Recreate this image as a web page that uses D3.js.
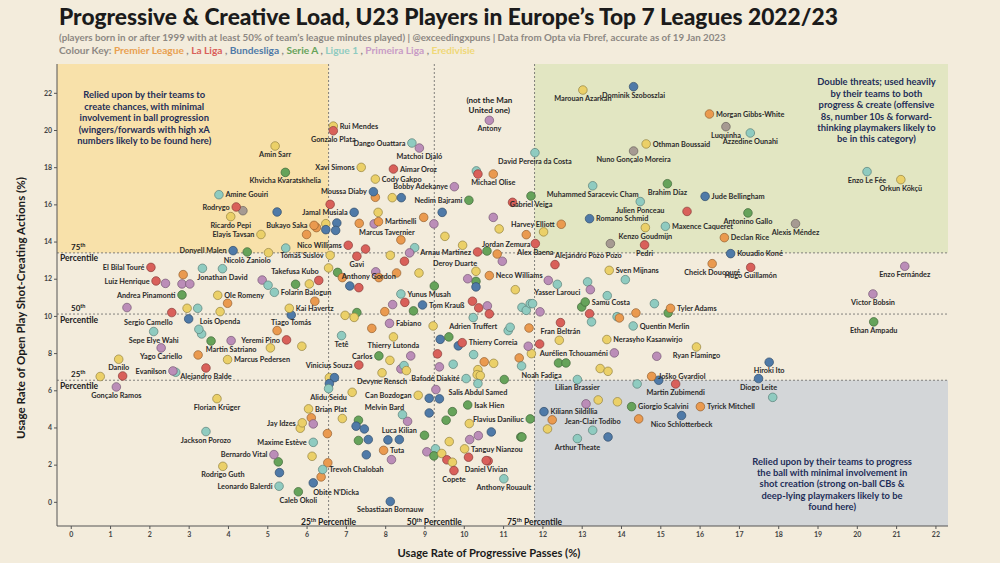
<!DOCTYPE html>
<html>
<head>
<meta charset="utf-8">
<script src="https://cdn.jsdelivr.net/npm/d3@7"></script>
<style>
  body { margin: 0; background: #f3ecdc; }
  svg { display: block; font-family: Lato, "Open Sans", sans-serif; }
</style>
</head>
<body>
<svg id="chart"></svg>
<script>
var w = 1000, h = 563;

// league codes, names and colours
var leagues = ["PL", "LL", "BL", "SA", "L1", "PT", "ED", "X"];
var leagueNames = ["Premier League", "La Liga", "Bundesliga", "Serie A", "Ligue 1", "Primeira Liga", "Eredivisie", ""];
var leagueColours = ["#ea9a4f", "#d9605a", "#4f7aa8", "#66a35a", "#8fcbc0", "#bb8db8", "#ebd068", "#a69a92"];
var keyColours = ["#e9a050", "#d9605a", "#4f7aa8", "#66a35a", "#8fcbc0", "#c89bc6", "#f0d878"];

// percentile cut-offs (progressive passes %, shot-creating actions %)
var xPercentiles = [6.56, 9.25, 11.80];
var yPercentiles = [6.54, 10.10, 13.39];
var percentileNames = ["25", "50", "75"];

var xTicks = d3.range(0, 23, 1);
var yTicks = d3.range(0, 23, 2);

// [name, progressive pass usage %, SCA usage %, league]
var named = [
  ["Amin Sarr", 5.20, 19.14, "ED"], ["Khvicha Kvaratskhelia", 5.46, 17.72, "SA"],
  ["Amine Gouiri", 3.77, 16.52, "L1"], ["Rodrygo", 4.21, 15.86, "LL"],
  ["Ricardo Pepi", 4.07, 15.34, "ED"], ["Bukayo Saka", 6.19, 14.87, "PL"],
  ["Elayis Tavsan", 4.84, 14.38, "ED"], ["Rui Mendes", 6.68, 20.21, "ED"],
  ["Gonzalo Plata", 6.68, 19.96, "LL"], ["Dango Ouattara", 8.68, 19.30, "L1"],
  ["Matchoi Djaló", 8.87, 19.03, "PT"], ["Antony", 10.65, 20.52, "PT"],
  ["Xavi Simons", 7.39, 17.99, "ED"], ["Aimar Oroz", 8.21, 17.90, "LL"],
  ["Cody Gakpo", 7.75, 17.36, "ED"], ["Moussa Diaby", 7.70, 16.68, "BL"],
  ["Bobby Adekanye", 9.76, 16.95, "PT"], ["Nedim Bajrami", 10.13, 16.22, "SA"],
  ["Michael Olise", 10.75, 17.63, "PL"], ["David Pereira da Costa", 11.81, 18.78, "L1"],
  ["Jamal Musiala", 7.21, 15.57, "BL"], ["Martinelli", 7.83, 15.07, "PL"],
  ["Marcus Tavernier", 8.40, 14.09, "PL"], ["Gabriel Veiga", 11.71, 16.45, "SA"],
  ["Harvey Elliott", 12.48, 14.93, "PL"], ["Marouan Azarkan", 13.03, 22.15, "ED"],
  ["Dominik Szoboszlai", 14.32, 22.33, "BL"], ["Morgan Gibbs-White", 16.25, 20.86, "PL"],
  ["Luquinha", 16.67, 20.18, "X"], ["Azzedine Ounahi", 17.29, 19.84, "L1"],
  ["Othman Boussaid", 14.64, 19.25, "ED"], ["Nuno Gonçalo Moreira", 14.32, 18.87, "X"],
  ["Muhammed Saracevic Cham", 13.28, 17.00, "L1"], ["Brahim Díaz", 15.18, 17.11, "SA"],
  ["Jude Bellingham", 16.14, 16.43, "BL"], ["Julien Ponceau", 14.49, 16.15, "L1"],
  ["Antonino Gallo", 17.23, 15.54, "SA"], ["Romano Schmid", 13.20, 15.23, "BL"],
  ["Maxence Caqueret", 15.13, 14.82, "L1"], ["Kenzo Goudmijn", 14.62, 14.75, "ED"],
  ["Enzo Le Fée", 20.26, 17.76, "L1"], ["Orkun Kökçü", 21.12, 17.33, "ED"],
  ["Alexis Méndez", 18.44, 14.96, "X"], ["Donyell Malen", 4.13, 13.51, "BL"],
  ["Nicolò Zaniolo", 4.49, 13.44, "SA"], ["Nico Williams", 7.06, 13.80, "LL"],
  ["Tomáš Suslov", 6.60, 13.26, "ED"], ["El Bilal Touré", 2.04, 12.61, "LL"],
  ["Jonathan David", 3.86, 12.54, "L1"], ["Luiz Henrique", 2.17, 11.88, "LL"],
  ["Takefusa Kubo", 6.31, 11.91, "LL"], ["Folarin Balogun", 5.18, 11.27, "L1"],
  ["Andrea Pinamonti", 2.83, 11.13, "SA"], ["Ole Romeny", 3.74, 11.11, "ED"],
  ["Kai Havertz", 5.56, 10.41, "ED"], ["Sergio Camello", 3.00, 9.84, "BL"],
  ["Lois Openda", 3.26, 9.28, "L1"], ["Tiago Tomás", 5.25, 9.21, "PL"],
  ["Sepe Elye Wahi", 2.11, 9.16, "L1"], ["Yeremi Pino", 5.49, 8.71, "LL"],
  ["Martin Satriano", 4.08, 8.67, "PT"], ["Yago Cariello", 2.30, 8.28, "PT"],
  ["Marcus Pedersen", 3.99, 7.65, "ED"], ["Danilo", 1.22, 7.67, "ED"],
  ["Evanilson", 2.60, 7.04, "PT"], ["Alejandro Balde", 3.44, 7.20, "LL"],
  ["Gonçalo Ramos", 1.16, 6.18, "PT"], ["Alidu Seidu", 6.56, 6.09, "L1"],
  ["Florian Krüger", 3.72, 5.55, "ED"], ["Jackson Porozo", 3.44, 3.78, "L1"],
  ["Brian Plat", 6.05, 5.00, "ED"], ["Jay Idzes", 5.89, 4.25, "ED"],
  ["Maxime Estève", 6.17, 3.20, "L1"], ["Bernardo Vital", 5.17, 2.54, "PT"],
  ["Rodrigo Guth", 3.87, 1.91, "ED"], ["Trevoh Chalobah", 6.41, 1.74, "L1"],
  ["Leonardo Balerdi", 5.30, 0.84, "L1"], ["Obite N'Dicka", 6.17, 1.02, "BL"],
  ["Caleb Okoli", 5.79, 0.54, "SA"], ["Can Bozdogan", 8.84, 5.73, "ED"],
  ["Salis Abdul Samed", 10.36, 6.36, "L1"], ["Isak Hien", 10.10, 5.21, "SA"],
  ["Melvin Bard", 8.44, 4.69, "L1"], ["Flavius Daniliuc", 11.69, 4.46, "SA"],
  ["Luca Kilian", 8.36, 3.35, "BL"], ["Tuta", 7.96, 2.77, "PL"],
  ["Copete", 9.75, 1.68, "LL"], ["Tanguy Nianzou", 10.02, 2.85, "ED"],
  ["Daniel Vivian", 10.57, 2.22, "LL"], ["Anthony Rouault", 11.02, 1.24, "L1"],
  ["Sebastiaan Bornauw", 8.13, 0.02, "BL"], ["Lilian Brassier", 12.89, 6.58, "L1"],
  ["Martin Zubimendi", 15.39, 6.34, "LL"], ["Diogo Leite", 17.50, 6.63, "BL"],
  ["Giorgio Scalvini", 14.27, 5.12, "SA"], ["Tyrick Mitchell", 16.02, 5.12, "PL"],
  ["Kiliann Sildillia", 12.04, 4.85, "BL"], ["Jean-Clair Todibo", 13.28, 3.85, "L1"],
  ["Nico Schlotterbeck", 15.54, 4.64, "BL"], ["Arthur Theate", 12.89, 3.40, "L1"],
  ["Jordan Zemura", 10.85, 13.33, "PL"], ["Alex Baena", 11.82, 13.89, "LL"],
  ["Arnau Martinez", 10.35, 13.44, "LL"], ["Deroy Duarte", 10.31, 12.40, "ED"],
  ["Gavi", 7.28, 13.21, "LL"], ["Anthony Gordon", 7.33, 11.52, "LL"],
  ["Yunus Musah", 8.40, 11.18, "L1"], ["Tom Krauß", 8.95, 10.59, "BL"],
  ["Neco Williams", 10.65, 12.17, "PL"], ["Adrien Truffert", 10.24, 9.91, "L1"],
  ["Fabiano", 8.11, 9.60, "PT"], ["Tetê", 6.89, 8.94, "L1"],
  ["Thierry Correia", 9.96, 8.56, "LL"], ["Thierry Lutonda", 8.21, 8.87, "ED"],
  ["Carlos", 7.84, 7.85, "SA"], ["Vinicius Souza", 7.33, 7.36, "LL"],
  ["Noah Fadiga", 11.47, 7.31, "L1"], ["Devyne Rensch", 7.92, 6.94, "ED"],
  ["Bafodé Diakité", 10.06, 6.63, "L1"], ["Alejandro Pozo Pozo", 12.32, 12.76, "LL"],
  ["Sven Mijnans", 13.70, 12.45, "ED"], ["Declan Rice", 16.63, 14.21, "PL"],
  ["Kouadio Koné", 16.79, 13.35, "BL"], ["Pedri", 14.60, 13.82, "LL"],
  ["Cheick Doucouré", 16.32, 12.81, "PL"], ["Hugo Guillamón", 17.30, 12.61, "LL"],
  ["Yasser Larouci", 12.38, 11.70, "L1"], ["Samu Costa", 13.09, 10.75, "SA"],
  ["Tyler Adams", 15.26, 10.41, "PL"], ["Quentin Merlin", 14.31, 9.46, "L1"],
  ["Fran Beltrán", 12.46, 9.64, "LL"], ["Nerasyho Kasanwirjo", 13.64, 8.73, "ED"],
  ["Aurélien Tchouaméni", 13.83, 8.01, "PT"], ["Ryan Flamingo", 15.92, 8.33, "ED"],
  ["Joško Gvardiol", 14.78, 6.75, "PL"], ["Hiroki Ito", 17.77, 7.51, "BL"],
  ["Enzo Fernández", 21.22, 12.67, "PT"], ["Victor Bobsin", 20.41, 11.18, "PT"],
  ["Ethan Ampadu", 20.43, 9.68, "SA"]
];

// unlabelled players: [passes %, SCA %, league]
var others = [
  [4.38, 15.66, "X"], [5.25, 15.59, "BL"], [6.25, 14.75, "PL"], [6.49, 14.96, "ED"], [6.49, 14.64, "BL"],
  [6.77, 15.00, "BL"], [6.74, 14.60, "BL"], [6.00, 14.38, "PL"], [7.75, 16.38, "PL"], [8.18, 16.36, "ED"],
  [8.41, 16.36, "BL"], [10.32, 17.80, "L1"], [10.36, 17.63, "LL"], [6.60, 16.00, "LL"], [7.82, 15.57, "ED"],
  [9.45, 15.57, "BL"], [11.24, 16.11, "LL"], [10.75, 15.30, "PT"], [10.90, 14.68, "ED"], [7.72, 14.95, "PT"],
  [7.34, 14.98, "PL"], [8.98, 15.30, "PL"], [9.24, 14.95, "PT"], [12.03, 14.52, "ED"], [11.59, 14.37, "PL"],
  [15.68, 15.62, "LL"], [5.03, 13.40, "ED"], [5.47, 13.65, "L1"], [3.35, 12.56, "L1"], [2.86, 12.22, "PL"],
  [2.41, 11.75, "PT"], [2.83, 11.72, "PT"], [3.03, 11.72, "PT"], [4.87, 11.93, "PT"], [5.02, 11.65, "L1"],
  [5.72, 11.70, "SA"], [6.07, 11.72, "ED"], [3.99, 10.68, "PL"], [6.21, 10.79, "PL"], [5.61, 10.05, "BL"],
  [1.43, 10.45, "PT"], [2.57, 10.18, "LL"], [2.96, 10.41, "ED"], [3.23, 10.41, "L1"], [3.80, 10.23, "ED"],
  [3.33, 9.03, "L1"], [3.57, 8.65, "SA"], [5.08, 8.28, "ED"], [5.88, 8.37, "ED"], [3.24, 7.90, "PL"],
  [2.67, 6.97, "L1"], [0.75, 6.74, "ED"], [1.32, 6.77, "LL"], [6.58, 6.68, "ED"], [6.71, 6.68, "BL"],
  [6.58, 6.36, "BL"], [6.12, 4.52, "PL"], [5.84, 3.96, "ED"], [6.17, 4.19, "PT"], [6.53, 3.67, "PL"],
  [6.14, 2.45, "ED"], [5.28, 2.15, "SA"], [6.54, 2.10, "PL"], [5.31, 1.57, "BL"], [6.37, 1.34, "PL"],
  [7.16, 5.89, "ED"], [9.29, 6.04, "PT"], [9.12, 5.57, "BL"], [9.38, 5.54, "BL"], [11.03, 6.58, "SA"],
  [8.57, 4.33, "PT"], [9.12, 4.78, "BL"], [9.71, 4.85, "SA"], [9.55, 4.39, "SA"], [10.14, 4.21, "ED"],
  [6.91, 4.48, "ED"], [7.32, 4.39, "SA"], [7.26, 4.07, "BL"], [7.47, 3.92, "BL"], [10.70, 3.76, "BL"],
  [11.45, 3.49, "SA"], [10.37, 3.56, "PT"], [10.15, 3.35, "PT"], [9.63, 3.24, "ED"], [9.00, 3.58, "SA"],
  [7.32, 3.30, "SA"], [7.57, 3.35, "BL"], [8.07, 3.33, "BL"], [8.16, 2.27, "PT"], [7.52, 2.53, "BL"],
  [9.06, 2.69, "PT"], [9.28, 2.85, "L1"], [9.24, 2.47, "SA"], [9.44, 2.60, "ED"], [9.57, 2.26, "LL"],
  [9.71, 2.13, "ED"], [10.12, 2.40, "LL"], [10.62, 2.20, "LL"], [14.41, 6.34, "L1"], [14.96, 6.54, "BL"],
  [17.86, 5.62, "L1"], [13.11, 5.27, "PT"], [13.42, 5.48, "ED"], [13.91, 5.38, "ED"], [12.25, 4.41, "PL"],
  [14.45, 4.46, "PL"], [12.13, 3.92, "ED"], [13.67, 3.49, "BL"], [7.50, 13.60, "LL"], [9.52, 14.28, "ED"],
  [9.97, 13.80, "ED"], [8.75, 13.67, "L1"], [8.62, 13.39, "PT"], [8.13, 13.26, "ED"], [8.49, 12.94, "LL"],
  [6.56, 12.58, "ED"], [6.79, 12.34, "SA"], [6.91, 12.06, "PL"], [7.76, 12.37, "PT"], [7.84, 12.06, "PL"],
  [8.29, 12.31, "PL"], [8.86, 12.31, "ED"], [7.10, 11.61, "BL"], [8.19, 10.61, "PT"], [8.50, 10.73, "LL"],
  [8.72, 10.27, "SA"], [7.99, 10.23, "PL"], [7.28, 10.18, "SA"], [6.98, 10.03, "ED"], [7.21, 9.92, "ED"],
  [9.25, 11.61, "SA"], [10.31, 11.86, "SA"], [10.10, 12.00, "PT"], [10.31, 11.56, "BL"], [11.31, 11.41, "ED"],
  [12.15, 11.91, "PT"], [10.22, 10.79, "LL"], [10.38, 10.43, "LL"], [10.60, 10.54, "PT"], [10.65, 10.11, "LL"],
  [11.48, 10.46, "L1"], [11.59, 10.30, "L1"], [11.69, 10.66, "L1"], [11.75, 10.66, "L1"], [11.94, 10.22, "PT"],
  [9.22, 9.46, "ED"], [11.13, 9.21, "L1"], [11.18, 9.39, "L1"], [11.66, 9.35, "PL"], [7.66, 9.33, "PL"],
  [9.40, 8.74, "BL"], [9.62, 8.87, "SA"], [9.86, 8.39, "BL"], [8.12, 7.61, "ED"], [8.65, 7.85, "PT"],
  [8.40, 7.15, "PT"], [8.48, 7.33, "L1"], [8.54, 7.06, "ED"], [9.33, 7.96, "LL"], [9.38, 7.26, "PT"],
  [9.73, 7.40, "L1"], [10.25, 7.92, "L1"], [10.52, 7.53, "PL"], [10.76, 7.45, "ED"], [10.36, 7.11, "ED"],
  [10.34, 6.84, "ED"], [10.42, 6.79, "ED"], [11.41, 7.74, "PL"], [11.72, 7.97, "ED"], [11.64, 8.37, "PT"],
  [11.93, 8.49, "LL"], [10.98, 12.94, "PT"], [10.59, 13.49, "SA"], [13.73, 13.89, "X"], [13.15, 11.83, "L1"],
  [14.11, 11.95, "L1"], [13.22, 11.41, "PT"], [13.00, 10.48, "SA"], [13.20, 10.12, "LL"], [13.65, 11.09, "L1"],
  [14.85, 10.66, "L1"], [15.20, 10.16, "SA"], [14.38, 10.16, "PL"], [13.90, 9.96, "L1"], [13.96, 9.89, "PL"],
  [13.25, 9.68, "L1"], [12.43, 8.69, "ED"], [14.91, 7.83, "PT"], [12.41, 7.47, "SA"], [12.60, 7.47, "SA"],
  [13.47, 7.17, "ED"], [13.67, 7.02, "ED"], [11.48, 3.49, "SA"]
];

// where each name sits relative to its dot: r, l, b, t or [dx, dy, anchor]
var labelPlace = {
  "Amine Gouiri": "r", "Rodrygo": "l", "Bukayo Saka": "l", "Elayis Tavsan": "l", "Rui Mendes": "r",
  "Dango Ouattara": "l", "Xavi Simons": "l", "Aimar Oroz": "r", "Cody Gakpo": "r", "Moussa Diaby": "l",
  "Bobby Adekanye": "l", "Nedim Bajrami": "l", "Jamal Musiala": "l", "Martinelli": "r",
  "Marcus Tavernier": [-14, -5, "middle"], "Harvey Elliott": "l", "Morgan Gibbs-White": "r",
  "Othman Boussaid": "r", "Jude Bellingham": "r", "Romano Schmid": "r", "Maxence Caqueret": "r",
  "Donyell Malen": "l", "Nico Williams": "l", "Tomáš Suslov": "l", "El Bilal Touré": "l", "Luiz Henrique": "l",
  "Takefusa Kubo": [0, -6, "end"], "Folarin Balogun": "r", "Andrea Pinamonti": "l", "Ole Romeny": "r",
  "Kai Havertz": "r", "Sergio Camello": [-16, 6, "end"], "Lois Openda": [21, -5, "middle"],
  "Tiago Tomás": [14, -6, "middle"], "Yeremi Pino": "l", "Marcus Pedersen": "r", "Evanilson": "l",
  "Brian Plat": "r", "Jay Idzes": "l", "Maxime Estève": "l", "Bernardo Vital": "l", "Trevoh Chalobah": "r",
  "Leonardo Balerdi": "l", "Obite N'Dicka": [0, 12, "start"], "Can Bozdogan": "l", "Isak Hien": "r",
  "Melvin Bard": [-18, -5, "middle"], "Flavius Daniliuc": "l", "Luca Kilian": "t", "Tuta": "r",
  "Tanguy Nianzou": "r", "Giorgio Scalvini": "r", "Tyrick Mitchell": "r", "Kiliann Sildillia": "r",
  "Jean-Clair Todibo": "t", "Jordan Zemura": [9, -7, "middle"], "Arnau Martinez": "l",
  "Deroy Duarte": [-21, -5, "middle"], "Anthony Gordon": [10, -9, "middle"], "Yunus Musah": "r",
  "Tom Krauß": "r", "Neco Williams": "r", "Fabiano": "r", "Thierry Correia": "r", "Carlos": "l",
  "Vinicius Souza": "l", "Noah Fadiga": [20, 12, "middle"], "Bafodé Diakité": "l",
  "Alejandro Pozo Pozo": [0, -7, "start"], "Sven Mijnans": "r", "Declan Rice": "r", "Kouadio Koné": "r",
  "Samu Costa": "r", "Tyler Adams": "r", "Quentin Merlin": "r", "Nerasyho Kasanwirjo": "r",
  "Aurélien Tchouaméni": "l", "Joško Gvardiol": "r"
};

var notes = [
  { lines: ["Relied upon by their teams to", "create chances, with minimal", "involvement in ball progression",
            "(wingers/forwards with high xA", "numbers likely to be found here)"], x: 1.87, y: 21.7 },
  { lines: ["Double threats; used heavily", "by their teams to both", "progress & create (offensive",
            "8s, number 10s & forward-", "thinking playmakers likely to", "be in this category)"], x: 20.5, y: 22.4 },
  { lines: ["Relied upon by their teams to progress", "the ball with minimal involvement in",
            "shot creation (strong on-ball CBs &", "deep-lying playmakers likely to be",
            "found here)"], x: 19.37, y: 2.0 }
];

var colour = d3.scaleOrdinal().domain(leagues).range(leagueColours);

var svg = d3.select("#chart").attr("width", w).attr("height", h);
svg.append("rect").attr("width", w).attr("height", h).attr("fill", "#f3ecdc");

var pLeft = 57, pRight = 948, pTop = 64, pBottom = 526;
var x = d3.scaleLinear().domain([-0.35, 22.32]).range([pLeft, pRight]);
var y = d3.scaleLinear().domain([-1.3, 23.55]).range([pBottom, pTop]);

function fitText(sel, width) {
  var fs = parseFloat(sel.attr("font-size"));
  var len = sel.node().getComputedTextLength();
  sel.attr("font-size", fs * width / len);
}

// titles
var title = svg.append("text").attr("x", 59).attr("y", 25)
  .attr("font-size", 24).attr("font-weight", 900).attr("fill", "#1b1b1b")
  .text("Progressive & Creative Load, U23 Players in Europe\u2019s Top 7 Leagues 2022/23");
fitText(title, 779);

var sub = svg.append("text").attr("x", 59).attr("y", 41)
  .attr("font-size", 10).attr("font-weight", 700).attr("fill", "#8d8883")
  .text("(players born in or after 1999 with at least 50% of team\u2019s league minutes played) | @exceedingxpuns | Data from Opta via Fbref, accurate as of 19 Jan 2023");
fitText(sub, 668);

var key = svg.append("text").attr("x", 59).attr("y", 54)
  .attr("font-size", 10).attr("font-weight", 700).attr("fill", "#8d8883");
key.append("tspan").text("Colour Key: ");
leagueNames.slice(0, 7).forEach(function(n, i) {
  key.append("tspan").attr("fill", keyColours[i]).text(n);
  if (i < 6) key.append("tspan").text(" , ");
});
fitText(key, 417);

// quadrant shading
var plot = svg.append("g");
plot.append("rect").attr("x", x(-0.35)).attr("y", y(23.55))
  .attr("width", x(xPercentiles[0]) - x(-0.35)).attr("height", y(yPercentiles[2]) - y(23.55))
  .attr("fill", "#f8e1aa");
plot.append("rect").attr("x", x(xPercentiles[2])).attr("y", y(23.55))
  .attr("width", x(22.32) - x(xPercentiles[2])).attr("height", y(yPercentiles[2]) - y(23.55))
  .attr("fill", "#e2e6c2");
plot.append("rect").attr("x", x(xPercentiles[2])).attr("y", y(yPercentiles[0]))
  .attr("width", x(22.32) - x(xPercentiles[2])).attr("height", y(-1.3) - y(yPercentiles[0]))
  .attr("fill", "#d3d6d8");

// percentile lines
plot.selectAll(".vline").data(xPercentiles).enter().append("line")
  .attr("x1", function(d) { return x(d); }).attr("x2", function(d) { return x(d); })
  .attr("y1", pTop).attr("y2", pBottom)
  .attr("stroke", "#666").attr("stroke-width", 0.8).attr("stroke-dasharray", "2,2");
plot.selectAll(".hline").data(yPercentiles).enter().append("line")
  .attr("x1", pLeft).attr("x2", pRight)
  .attr("y1", function(d) { return y(d); }).attr("y2", function(d) { return y(d); })
  .attr("stroke", "#666").attr("stroke-width", 0.8).attr("stroke-dasharray", "2,2");

// percentile labels on the left
yPercentiles.forEach(function(v, i) {
  var t = svg.append("text").attr("x", 71).attr("y", y(v) - 3)
    .attr("font-size", 8).attr("font-weight", 700).attr("fill", "#222");
  t.append("tspan").text(percentileNames[i]);
  t.append("tspan").attr("font-size", 5.5).attr("dy", -3).text("th");
  svg.append("text").attr("x", 60).attr("y", y(v) + 8.5)
    .attr("font-size", 8.5).attr("font-weight", 700).attr("fill", "#222").text("Percentile");
});

// percentile labels on the bottom
xPercentiles.forEach(function(v, i) {
  var t = svg.append("text").attr("x", x(v)).attr("y", pBottom - 1)
    .attr("text-anchor", "middle").attr("font-size", 8.5).attr("font-weight", 700).attr("fill", "#222");
  t.append("tspan").text(percentileNames[i]);
  t.append("tspan").attr("font-size", 5.5).attr("dy", -3).text("th");
  t.append("tspan").attr("dy", 3).text(" Percentile");
});

// axes
var xAxis = svg.append("g").attr("transform", "translate(0," + pBottom + ")")
  .call(d3.axisBottom(x).tickValues(xTicks).tickSize(3).tickPadding(3));
var yAxis = svg.append("g").attr("transform", "translate(" + pLeft + ",0)")
  .call(d3.axisLeft(y).tickValues(yTicks).tickSize(3).tickPadding(2));
[xAxis, yAxis].forEach(function(a) {
  a.select(".domain").attr("stroke", "#555").attr("stroke-width", 1);
  a.selectAll(".tick line").attr("stroke", "#555");
  a.selectAll(".tick text").attr("font-size", 7).attr("font-weight", 700).attr("fill", "#444")
    .attr("font-family", "Lato, sans-serif");
});
xAxis.select(".domain").attr("d", "M" + pLeft + ",0H" + pRight);
yAxis.select(".domain").attr("d", "M0," + pTop + "V" + pBottom);

var xt = svg.append("text").attr("x", 489).attr("y", 557).attr("text-anchor", "middle")
  .attr("font-size", 12).attr("font-weight", 700).attr("fill", "#1b1b1b")
  .text("Usage Rate of Progressive Passes (%)");
fitText(xt, 183);
var yt = svg.append("text").attr("transform", "translate(25,308) rotate(-90)")
  .attr("text-anchor", "middle").attr("font-size", 12).attr("font-weight", 700).attr("fill", "#1b1b1b")
  .text("Usage Rate of Open Play Shot-Creating Actions (%)");
fitText(yt, 262);

// annotations
notes.forEach(function(n) {
  var t = svg.append("text").attr("text-anchor", "middle")
    .attr("font-size", 9.4).attr("font-weight", 700).attr("fill", "#1f2e58");
  n.lines.forEach(function(l, i) {
    t.append("tspan").attr("x", x(n.x)).attr("y", y(n.y) + i * 11.4).text(l);
  });
});

// the other Antony
var antonyNote = svg.append("text").attr("text-anchor", "middle")
  .attr("font-size", 8).attr("font-weight", 700).attr("fill", "#222");
["(not the Man", "United one)"].forEach(function(l, i) {
  antonyNote.append("tspan").attr("x", x(10.65)).attr("y", y(20.52) - 17 + i * 9.6).text(l);
});

// points
var pts = others.map(function(d) { return { name: "", x: d[0], y: d[1], lg: d[2] }; })
  .concat(named.map(function(d) { return { name: d[0], x: d[1], y: d[2], lg: d[3] }; }));

svg.append("g").selectAll("circle").data(pts).enter().append("circle")
  .attr("cx", function(d) { return x(d.x); })
  .attr("cy", function(d) { return y(d.y); })
  .attr("r", 4.3)
  .attr("fill", function(d) { return colour(d.lg); })
  .attr("stroke", function(d) { return d3.color(colour(d.lg)).darker(1.3); })
  .attr("stroke-width", 0.7);

// name labels
svg.append("g").selectAll("text").data(named).enter().append("text")
  .attr("font-size", 7.3).attr("font-weight", 700).attr("fill", "#2b2b2b")
  .each(function(d) {
    var p = labelPlace[d[0]] || "b";
    var dx = 0, dy = 11, anchor = "middle";
    if (p === "r") { dx = 6.5; dy = 2.7; anchor = "start"; }
    else if (p === "l") { dx = -6.5; dy = 2.7; anchor = "end"; }
    else if (p === "t") { dx = 0; dy = -6.5; anchor = "middle"; }
    else if (Array.isArray(p)) { dx = p[0]; dy = p[1]; anchor = p[2]; }
    d3.select(this).attr("x", x(d[1]) + dx).attr("y", y(d[2]) + dy)
      .attr("text-anchor", anchor).text(d[0]);
  });
</script>
</body>
</html>
